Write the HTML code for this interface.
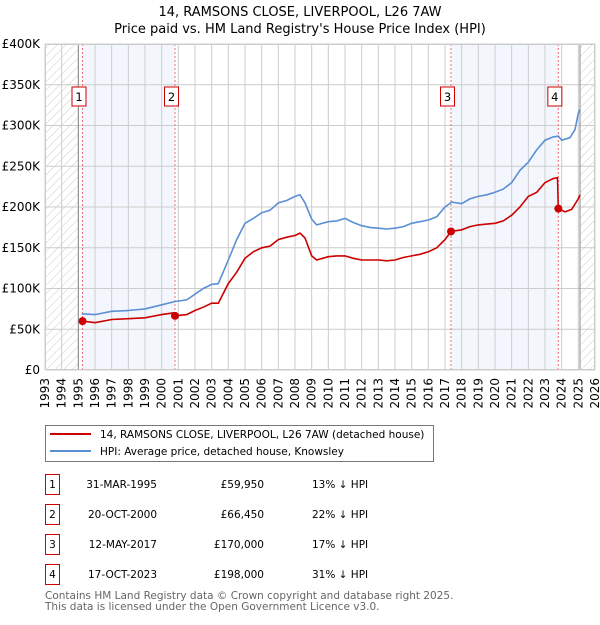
<!DOCTYPE html>
<html><head><meta charset="utf-8"><style>
body{margin:0;background:#fff}
svg text{font-family:"DejaVu Sans","Liberation Sans",sans-serif}
</style></head><body>
<svg id="c" width="600" height="620" xmlns="http://www.w3.org/2000/svg">
<defs>
<pattern id="hatch" width="6" height="6" patternUnits="userSpaceOnUse" patternTransform="rotate(45)">
<line x1="0" y1="0" x2="0" y2="6" stroke="#ccc" stroke-width="1"/>
</pattern>
</defs>
<text x="300" y="16" text-anchor="middle" font-size="13">14, RAMSONS CLOSE, LIVERPOOL, L26 7AW</text>
<text x="300" y="33" text-anchor="middle" font-size="13">Price paid vs. HM Land Registry's House Price Index (HPI)</text>
<g id="plot"></g>
<g>
<rect x="45.5" y="425.5" width="388" height="36" fill="#fff" stroke="#777"/>
<line x1="50" y1="434" x2="91" y2="434" stroke="#cc0000" stroke-width="2"/>
<text x="100" y="438" font-size="10.5">14, RAMSONS CLOSE, LIVERPOOL, L26 7AW (detached house)</text>
<line x1="50" y1="451" x2="91" y2="451" stroke="#5b8fd4" stroke-width="2"/>
<text x="100" y="455" font-size="10.5">HPI: Average price, detached house, Knowsley</text>
</g>
<g id="table"></g>
<text x="45" y="599" font-size="10.5" fill="#666">Contains HM Land Registry data © Crown copyright and database right 2025.</text>
<text x="45" y="610" font-size="10.5" fill="#666">This data is licensed under the Open Government Licence v3.0.</text>
</svg>
<script>
const hpiYears=[1995.2,1996,1997,1998,1999,2000,2000.8,2001.5,2002,2002.5,2003,2003.4,2004,2004.5,2005,2005.5,2006,2006.5,2007,2007.5,2008,2008.3,2008.6,2009,2009.3,2010,2010.5,2011,2011.5,2012,2012.5,2013,2013.5,2014,2014.5,2015,2015.5,2016,2016.5,2017,2017.4,2018,2018.5,2019,2019.5,2020,2020.5,2021,2021.5,2022,2022.5,2023,2023.5,2023.8,2024,2024.5,2024.8,2025.0,2025.1];
const hpiValues=[69,68,72,73,75,80,84,86,93,100,105,106,135,160,180,186,193,196,205,208,213,215,205,185,178,182,183,186,181,177,175,174,173,174,176,180,182,184,188,200,206,204,210,213,215,218,222,230,245,255,270,282,286,287,282,285,295,315,320];
const propYears=[1995.25,1996,1997,1998,1999,2000,2000.7,2000.8,2001.5,2002,2002.5,2003,2003.4,2004,2004.5,2005,2005.5,2006,2006.5,2007,2007.5,2008,2008.3,2008.6,2009,2009.3,2010,2010.5,2011,2011.5,2012,2012.5,2013,2013.5,2014,2014.5,2015,2015.5,2016,2016.5,2017,2017.36,2018,2018.5,2019,2019.5,2020,2020.5,2021,2021.5,2022,2022.5,2023,2023.5,2023.75,2023.8,2024.2,2024.6,2025,2025.1];
const propValues=[60,58,62,63,64,68,70,66.45,68,73,77,82,82,106,120,137,145,150,152,160,163,165,168,162,140,135,139,140,140,137,135,135,135,134,135,138,140,142,145,150,160,170,172,176,178,179,180,183,190,200,213,218,230,235,236,198,194,197,210,215];
const saleLabels=["1","2","3","4"];
const saleYears=[1995.25,2000.8,2017.36,2023.8];
const saleValues=[59.95,66.45,170,198];
const saleDates=["31-MAR-1995","20-OCT-2000","12-MAY-2017","17-OCT-2023"];
const salePrices=["£59,950","£66,450","£170,000","£198,000"];
const saleHpi=["13% ↓ HPI","22% ↓ HPI","17% ↓ HPI","31% ↓ HPI"];
const yTicks=[0,50,100,150,200,250,300,350,400];
const yTickLabels=["£0","£50K","£100K","£150K","£200K","£250K","£300K","£350K","£400K"];

const X0=45,X1=595,Y0=370,Y1=44,YR0=1993,YR1=2026;
const xs=y=>X0+(y-YR0)/(YR1-YR0)*(X1-X0);
const ys=v=>Y0-v/400*(Y0-Y1);
const NS="http://www.w3.org/2000/svg";
const plot=document.getElementById('plot');
function mk(tag,attrs,parent){const e=document.createElementNS(NS,tag);for(const k in attrs)e.setAttribute(k,attrs[k]);(parent||plot).appendChild(e);return e;}

let r=mk('rect',{x:X0,y:Y1,width:X1-X0,height:Y0-Y1,fill:'#fff'});


for(const [a,b] of [[saleYears[0],saleYears[1]],[saleYears[2],saleYears[3]]]){
  const e=mk('rect',{x:xs(a),y:Y1,width:xs(b)-xs(a),height:Y0-Y1,fill:'#eef3fc',opacity:0.7});
  
  
}
for(const [a,b] of [[1993,1995],[2025.1,2026]]){
  const e=mk('rect',{x:xs(a),y:Y1,width:xs(b)-xs(a),height:Y0-Y1,fill:'url(#hatch)'});
  
  
}
for(let yr=1993;yr<=2026;yr++){
  const e=mk('line',{x1:xs(yr),x2:xs(yr),y1:Y1,y2:Y0,stroke:'#ccc','stroke-width':1});
  
  
  const t=mk('text',{x:0,y:0,'font-size':12,'text-anchor':'end',transform:`translate(${xs(yr)+4},378) rotate(-90)`});
  t.textContent=yr;
  
  
}
yTicks.forEach((v,i)=>{
  const e=mk('line',{x1:X0,x2:X1,y1:ys(v),y2:ys(v),stroke:'#ccc','stroke-width':1});
  
  
  const t=mk('text',{x:40,y:ys(v)+4,'font-size':12,'text-anchor':'end'});
  t.textContent=yTickLabels[i];
  
  
});
for(const yr of [1995,2025.1]){
  const e=mk('line',{x1:xs(yr),x2:xs(yr),y1:Y1,y2:Y0,stroke:'#888','stroke-width':1});
  
  
}
saleYears.forEach(y=>{
  const e=mk('line',{x1:xs(y),x2:xs(y),y1:Y1,y2:Y0,stroke:'#f07070','stroke-width':1,'stroke-dasharray':'2,2'});
  
  
});
function pathOf(xa,va){return xa.map((x,i)=>(i?'L':'M')+xs(x).toFixed(1)+','+ys(va[i]).toFixed(1)).join('');}
let hp=mk('path',{d:pathOf(hpiYears,hpiValues),fill:'none',stroke:'#5b8fd4','stroke-width':1.6});


let pp=mk('path',{d:pathOf(propYears,propValues),fill:'none',stroke:'#cc0000','stroke-width':1.6});


saleYears.forEach((y,i)=>{
  const c=mk('circle',{cx:xs(y),cy:ys(saleValues[i]),r:4,fill:'#cc0000'});
  
  
  const bx=xs(y)-10.5;
  const b=mk('rect',{x:bx,y:87,width:14,height:19,fill:'#fff',stroke:'#cc0000'});
  
  
  const t=mk('text',{x:bx+7,y:101,'font-size':11.5,'text-anchor':'middle'});
  t.textContent=saleLabels[i];
  
  
});
let fr=mk('rect',{x:X0+0.5,y:Y1+0.5,width:X1-X0-1,height:Y0-Y1-1,fill:'none',stroke:'#ccc'});



const tb=document.getElementById('table');
saleLabels.forEach((l,i)=>{
  const cy=483+i*30;
  const b=mk('rect',{x:45.5,y:cy-8.5,width:14,height:20,fill:'#fff',stroke:'#cc0000'},tb);
  
  
  const cells=[[52.5,l,'middle'],[157,saleDates[i],'end'],[264,salePrices[i],'end'],[312,saleHpi[i],'start']];
  const names=['table-row-number','table-sale-date','table-sale-price','table-hpi-diff'];
  cells.forEach((c,j)=>{
    const t=mk('text',{x:c[0],y:cy+5,'font-size':10.5,'text-anchor':c[2]},tb);
    t.textContent=c[1];
    
    
  });
});
</script>
</body></html>
